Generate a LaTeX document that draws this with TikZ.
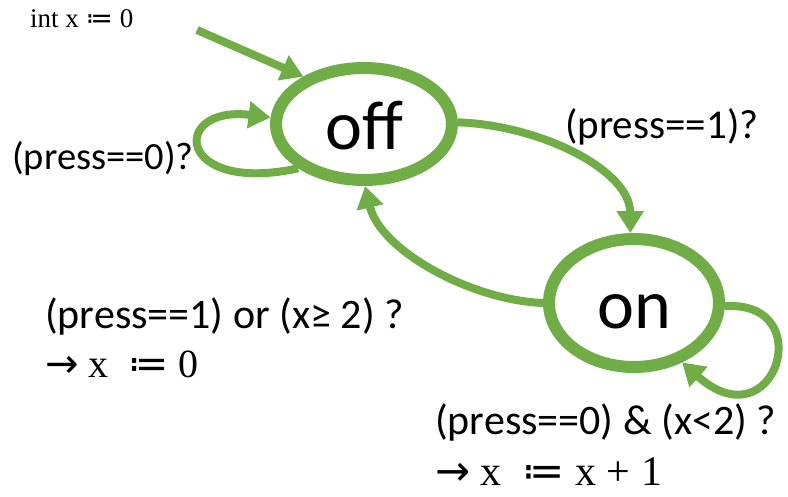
\documentclass[tikz,border=0pt]{standalone}
\usepackage{fontspec}
\setmainfont{Carlito}
\newfontfamily\serifm{Liberation Serif}
\newfontfamily\symf{DejaVu Sans}
\newcommand{\ceq}{{\symf ≔}}
\newcommand{\rarr}{{\symf →}}
\usetikzlibrary{arrows.meta,shapes.geometric}
\definecolor{grn}{RGB}{112,173,71}
\tikzset{
  statenode/.style={ellipse, draw=grn, line width=12pt, fill=white, inner sep=0pt,
    text height=50pt, text depth=0pt, font=\fontsize{70}{70}\selectfont},
  arr/.style={draw=grn, line width=8pt, -{Triangle[length=22pt,width=26pt]}},
  lbl/.style={anchor=base west, inner sep=0pt, font=\fontsize{42}{48}\selectfont},
  mlbl/.style={anchor=base west, inner sep=0pt, font=\serifm\fontsize{42}{46}\selectfont},
}
\begin{document}
\begin{tikzpicture}[x=1pt,y=-1pt]
\useasboundingbox (0,0) rectangle (788,496);
\node[statenode, minimum width=176pt, minimum height=112pt] (off) at (364,124) {off};
\node[statenode, minimum width=170pt, minimum height=128pt] (on) at (634,303) {on};
\coordinate (init) at (197,30);
\draw[arr] (init) -- (off.142);
\draw[arr] (off.214) .. controls (175,195) and (170,105) .. (off.176);
\draw[arr] (off.1) .. controls (540,125) and (630,170) .. (on.93);
\draw[arr] (on.180) .. controls (470,300) and (380,250) .. (off.271);
\draw[arr] (on.358) .. controls (820,300) and (775,445) .. (on.309);
\node[mlbl, font=\serifm\fontsize{27}{30}\selectfont] (t0) at (30,27) {int x\hspace{7pt}\ceq\hspace{7pt}0};
\node[lbl, font=\fontsize{38.5}{44}\selectfont] (t1) at (12,169) {(press==0)?};
\node[lbl, font=\fontsize{41}{46}\selectfont] (t2) at (565,138) {(press==1)?};
\node[lbl] (t3) at (45,328) {(press==1) or (x≥ 2) ?};
\node[mlbl, font=\serifm\fontsize{40}{46}\selectfont] (t4) at (45,377) {\rarr{} x \ \ceq{} 0};
\node[lbl] (t5) at (435,434) {(press==0) \& (x<2) ?};
\node[mlbl] (t6) at (435,485) {\rarr{} x \ \ceq{} x + 1};
\end{tikzpicture}
\end{document}
